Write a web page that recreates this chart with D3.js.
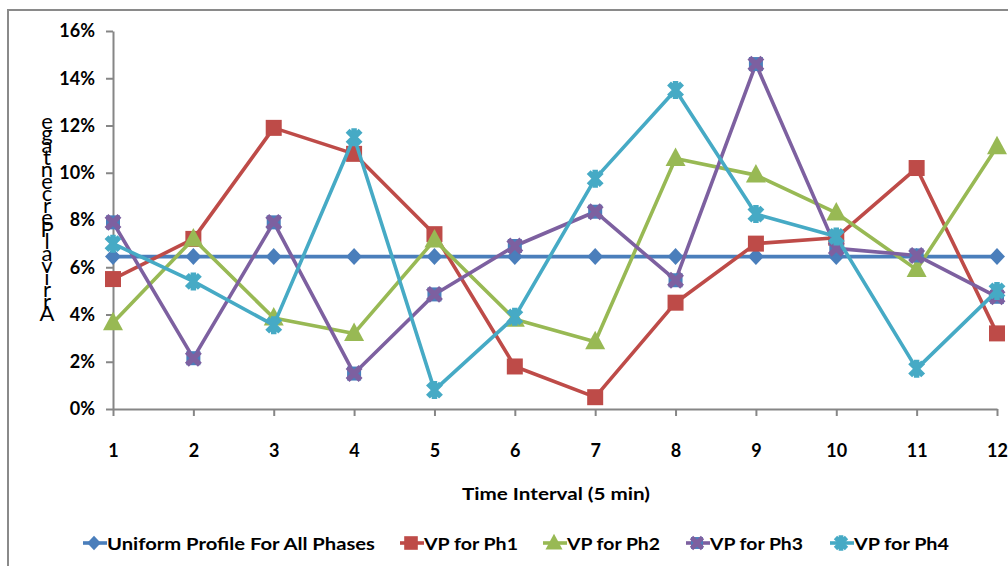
<!DOCTYPE html>
<html>
<head>
<meta charset="utf-8">
<script src="https://cdn.jsdelivr.net/npm/d3@7"></script>
<style>
  html, body { margin: 0; padding: 0; background: #fff; }
  svg { display: block; font-family: Lato, "Open Sans", sans-serif; }
</style>
</head>
<body>
<svg id="chart" width="1008" height="566"></svg>
<script>
// ---- data ----
const intervals = [1, 2, 3, 4, 5, 6, 7, 8, 9, 10, 11, 12];
const yTicks = [0, 0.02, 0.04, 0.06, 0.08, 0.10, 0.12, 0.14, 0.16];

const uniform = [0.0645, 0.0645, 0.0645, 0.0645, 0.0645, 0.0645, 0.0645, 0.0645, 0.0645, 0.0645, 0.0645, 0.0645];
const ph1 = [0.055, 0.072, 0.119, 0.108, 0.074, 0.018, 0.005, 0.045, 0.070, 0.0725, 0.102, 0.032];
const ph2 = [0.0365, 0.072, 0.0385, 0.032, 0.0715, 0.038, 0.0285, 0.106, 0.099, 0.083, 0.059, 0.111];
const ph3 = [0.079, 0.0215, 0.079, 0.015, 0.0485, 0.069, 0.0835, 0.0545, 0.146, 0.068, 0.065, 0.0475];
const ph4 = [0.070, 0.054, 0.0355, 0.115, 0.008, 0.039, 0.0975, 0.135, 0.0825, 0.073, 0.017, 0.050];

const seriesNames = ['Uniform Profile For All Phases', 'VP for Ph1', 'VP for Ph2', 'VP for Ph3', 'VP for Ph4'];
const seriesColors = ['#4a7ebb', '#be4b48', '#98b954', '#7d60a0', '#46aac5'];
const seriesMarks = ['diamond', 'square', 'triangle', 'cross', 'star'];
const seriesValues = [uniform, ph1, ph2, ph3, ph4];

const axisTitleX = 'Time Interval (5 min)';
const axisTitleY = 'Arrival Percentage';

// ---- setup ----
const svg = d3.select('#chart');
const gridColor = '#868686';

// outer chart frame (clipped at the right/bottom like the reference)
svg.append('path')
  .attr('d', 'M8,570V10H1010')
  .attr('fill', 'none')
  .attr('stroke', '#8a8a8a')
  .attr('stroke-width', 2);

const x = d3.scalePoint().domain(intervals).range([113, 997]);
const y = d3.scaleLinear().domain([0, 0.16]).range([409, 31]);

// axes
const gy = svg.append('g')
  .attr('transform', 'translate(113,0)')
  .call(d3.axisLeft(y).tickValues(yTicks).tickFormat(d3.format('.0%')).tickSize(7).tickSizeOuter(0).tickPadding(11));
const gx = svg.append('g')
  .attr('transform', 'translate(0,409)')
  .call(d3.axisBottom(x).tickSize(7).tickSizeOuter(0).tickPadding(28));

[gx, gy].forEach(g => {
  g.select('.domain').attr('stroke', gridColor).attr('stroke-width', 2);
  g.selectAll('.tick line').attr('stroke', gridColor).attr('stroke-width', 2);
  g.selectAll('.tick text')
    .attr('fill', '#000')
    .attr('font-size', 18)
    .attr('font-weight', 'bold')
    .attr('font-family', 'Lato, sans-serif');
});

// axis titles
svg.append('text')
  .attr('x', 462).attr('y', 500)
  .attr('font-size', 17).attr('font-weight', 'bold')
  .attr('textLength', 188).attr('lengthAdjust', 'spacingAndGlyphs')
  .text(axisTitleX);

// the y title is rendered as stacked upright letters, read bottom to top
const yLetters = axisTitleY.replace(' ', '').split('');
svg.append('text')
  .attr('text-anchor', 'middle')
  .attr('font-size', 22)
  .attr('font-family', 'Lato, sans-serif')
  .selectAll('tspan').data(yLetters).join('tspan')
  .attr('x', 47)
  .attr('y', (d, i) => 321 - i * 12)
  .text(d => d);

// markers
function drawMarker(g, type, color, cx, cy, s) {
  s = s || 1;
  if (type === 'diamond') {
    g.append('path').attr('d', `M${cx},${cy - 8.5 * s}L${cx + 8 * s},${cy}L${cx},${cy + 8.5 * s}L${cx - 8 * s},${cy}Z`)
      .attr('fill', color);
  } else if (type === 'square') {
    g.append('rect').attr('x', cx - 8 * s).attr('y', cy - 8 * s).attr('width', 16 * s).attr('height', 16 * s)
      .attr('fill', color);
  } else if (type === 'triangle') {
    g.append('path').attr('d', `M${cx},${cy - 11 * s}L${cx + 10 * s},${cy + 7.5 * s}L${cx - 10 * s},${cy + 7.5 * s}Z`)
      .attr('fill', color);
  } else if (type === 'cross') {
    g.append('rect').attr('x', cx - 7 * s).attr('y', cy - 7 * s).attr('width', 14 * s).attr('height', 14 * s)
      .attr('fill', '#4a7ebb');
    g.append('path').attr('d', `M${cx - 6.5 * s},${cy - 6.5 * s}L${cx + 6.5 * s},${cy + 6.5 * s}M${cx + 6.5 * s},${cy - 6.5 * s}L${cx - 6.5 * s},${cy + 6.5 * s}`)
      .attr('stroke', color).attr('stroke-width', 5.5 * s).attr('fill', 'none');
  } else if (type === 'star') {
    g.append('path').attr('d', `M${cx - 6.5 * s},${cy - 6.5 * s}L${cx + 6.5 * s},${cy + 6.5 * s}M${cx + 6.5 * s},${cy - 6.5 * s}L${cx - 6.5 * s},${cy + 6.5 * s}M${cx},${cy - 9 * s}L${cx},${cy + 9 * s}`)
      .attr('stroke', color).attr('stroke-width', 5.5 * s).attr('fill', 'none');
  }
}

const line = d3.line().x((d, i) => x(intervals[i])).y(d => y(d));

const gSeries = svg.append('g');
seriesValues.forEach((vals, k) => {
  const g = gSeries.append('g');
  g.append('path').datum(vals)
    .attr('d', line)
    .attr('fill', 'none')
    .attr('stroke', seriesColors[k])
    .attr('stroke-width', 3.6)
    .attr('stroke-linejoin', 'round');
  vals.forEach((v, i) => drawMarker(g, seriesMarks[k], seriesColors[k], x(intervals[i]), y(v)));
});

// legend
const legendX = [83, 400, 543, 686, 830];
const legendW = [268, 94, 93, 93, 95];
const legend = svg.append('g');
seriesNames.forEach((name, k) => {
  const g = legend.append('g');
  const x0 = legendX[k];
  g.append('line')
    .attr('x1', x0).attr('x2', x0 + 24).attr('y1', 543).attr('y2', 543)
    .attr('stroke', seriesColors[k]).attr('stroke-width', 3.6);
  drawMarker(g, seriesMarks[k], seriesColors[k], x0 + 11, 543, 0.85);
  g.append('text')
    .attr('x', x0 + 24).attr('y', 550)
    .attr('font-size', 17).attr('font-weight', 'bold')
    .attr('textLength', legendW[k]).attr('lengthAdjust', 'spacingAndGlyphs')
    .text(name);
});
</script>
</body>
</html>
